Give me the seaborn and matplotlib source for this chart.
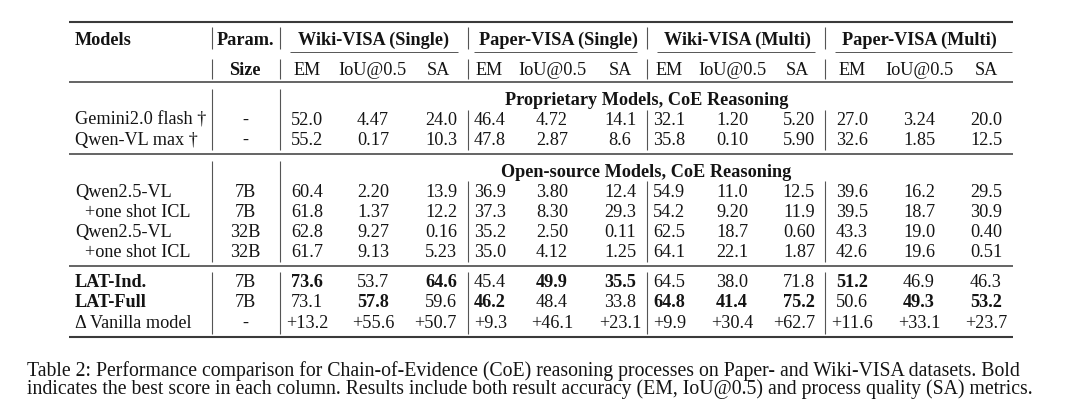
import matplotlib
matplotlib.use("Agg")
import matplotlib.pyplot as plt
import seaborn as sns
import pandas as pd

# ---------------- data ----------------
models = ["Gemini2.0 flash †", "Qwen-VL max †", "Qwen2.5-VL", "+one shot ICL",
          "Qwen2.5-VL", "+one shot ICL", "LAT-Ind.", "LAT-Full", "Δ Vanilla model"]
indented = [False, False, False, True, False, True, False, False, False]
bold_models = [False, False, False, False, False, False, True, True, False]
sizes = ["-", "-", "7B", "7B", "32B", "32B", "7B", "7B", "-"]

wiki_s_em = ["52.0", "55.2", "60.4", "61.8", "62.8", "61.7", "73.6", "73.1", "+13.2"]
wiki_s_iou = ["4.47", "0.17", "2.20", "1.37", "9.27", "9.13", "53.7", "57.8", "+55.6"]
wiki_s_sa = ["24.0", "10.3", "13.9", "12.2", "0.16", "5.23", "64.6", "59.6", "+50.7"]
paper_s_em = ["46.4", "47.8", "36.9", "37.3", "35.2", "35.0", "45.4", "46.2", "+9.3"]
paper_s_iou = ["4.72", "2.87", "3.80", "8.30", "2.50", "4.12", "49.9", "48.4", "+46.1"]
paper_s_sa = ["14.1", "8.6", "12.4", "29.3", "0.11", "1.25", "35.5", "33.8", "+23.1"]
wiki_m_em = ["32.1", "35.8", "54.9", "54.2", "62.5", "64.1", "64.5", "64.8", "+9.9"]
wiki_m_iou = ["1.20", "0.10", "11.0", "9.20", "18.7", "22.1", "38.0", "41.4", "+30.4"]
wiki_m_sa = ["5.20", "5.90", "12.5", "11.9", "0.60", "1.87", "71.8", "75.2", "+62.7"]
paper_m_em = ["27.0", "32.6", "39.6", "39.5", "43.3", "42.6", "51.2", "50.6", "+11.6"]
paper_m_iou = ["3.24", "1.85", "16.2", "18.7", "19.0", "19.6", "46.9", "49.3", "+33.1"]
paper_m_sa = ["20.0", "12.5", "29.5", "30.9", "0.40", "0.51", "46.3", "53.2", "+23.7"]

value_columns = [wiki_s_em, wiki_s_iou, wiki_s_sa, paper_s_em, paper_s_iou, paper_s_sa,
                 wiki_m_em, wiki_m_iou, wiki_m_sa, paper_m_em, paper_m_iou, paper_m_sa]
metric_labels = ["EM", "IoU@0.5", "SA"] * 4
group_labels = ["Wiki-VISA (Single)", "Paper-VISA (Single)", "Wiki-VISA (Multi)", "Paper-VISA (Multi)"]
section_labels = ["Proprietary Models, CoE Reasoning", "Open-source Models, CoE Reasoning"]

# bold cells: (row, column)
bold_cells = {(6, 0), (6, 2), (6, 4), (6, 5), (6, 9),
              (7, 1), (7, 3), (7, 6), (7, 7), (7, 8), (7, 10), (7, 11)}

caption_line1 = ("Table 2: Performance comparison for Chain-of-Evidence (CoE) reasoning "
                 "processes on Paper- and Wiki-VISA datasets. Bold")
caption_line2 = ("indicates the best score in each column. Results include both result "
                 "accuracy (EM, IoU@0.5) and process quality (SA) metrics.")

# ---------------- layout (pixels) ----------------
row_base = [125, 145, 197, 217, 237, 257, 287, 307.5, 328]
col_x = [307, 373, 457, 474, 552, 620, 653, 732, 815, 852, 919, 986]
col_ha = ["center", "center", "right", "left", "center", "center",
          "left", "center", "right", "center", "center", "center"]
hdr_x = [307, 372, 438, 476, 552, 620, 669, 732, 797, 852, 919, 986]
hdr_ha = ["center"] * 3 + ["left"] + ["center"] * 8
group_x = [374, 558, 737, 919.5]
cmid = [(290, 458), (474, 637), (657, 815), (835, 1012)]
section_base = [105, 177]
section_x = 646.5

TEXT = "#141414"
RULE = "#3a3a3a"
VBAR = "#555555"

sns.set_theme(style="white")
plt.rcParams["font.family"] = ["Liberation Serif", "DejaVu Serif"]

fig = plt.figure(figsize=(10.8, 4.14), dpi=100)
ax = fig.add_axes([0, 0, 1, 1])
ax.set_xlim(0, 1080)
ax.set_ylim(414, 0)
ax.axis("off")
fig.patch.set_facecolor("white")
renderer = fig.canvas.get_renderer()


def extent(s, fs, weight="normal", ls=1.0, y=0, va="baseline"):
    t = ax.text(0, y, s, fontsize=fs, fontweight=weight, linespacing=ls, va=va)
    bb = t.get_window_extent(renderer)
    t.remove()
    return bb


# fit font sizes to reference widths
fs_tab = 10 * 283.0 / extent(section_labels[0], 10, "bold").width
fs_cap = 10 * 1002.0 / extent(caption_line2, 10).width


def txt(x, y, s, ha="center", bold=False, fs=None):
    ax.text(x, y, s, ha=ha, va="baseline", fontsize=fs or fs_tab,
            fontweight="bold" if bold else "normal", color=TEXT)


# header
txt(75, 45, "Models", ha="left", bold=True)
txt(245, 45, "Param.", bold=True)
txt(245, 75, "Size", bold=True)
for gx, gl in zip(group_x, group_labels):
    txt(gx, 45, gl, bold=True)
for hx, ha, ml in zip(hdr_x, hdr_ha, metric_labels):
    txt(hx, 75, ml, ha=ha)

# section titles
for sy, sl in zip(section_base, section_labels):
    txt(section_x, sy, sl, bold=True)

# body
df = pd.DataFrame({"model": models, "size": sizes, "indent": indented, "bold": bold_models})
for i, r in df.iterrows():
    y = row_base[i]
    txt(85 if r["indent"] else 75, y, r["model"], ha="left", bold=r["bold"])
    txt(245, y, r["size"])
    for j, col in enumerate(value_columns):
        txt(col_x[j], y, col[i], ha=col_ha[j], bold=(i, j) in bold_cells)

# horizontal rules
ax.hlines([23, 338], 69, 1013, color=RULE, lw=1.5)
ax.hlines([83, 155, 267], 69, 1013, color=RULE, lw=1.1)
for a, b in cmid:
    ax.hlines(53, a, b, color="#555555", lw=0.7)

# vertical bars
full_segments = [(28, 50), (60, 80), (90, 151), (162, 263), (273, 335)]
data_segments = [(28, 50), (60, 80), (111, 151), (182, 263), (273, 335)]
for x in (212, 280):
    for a, b in full_segments:
        ax.vlines(x, a, b, color=VBAR, lw=0.8)
for x in (468, 647, 825):
    for a, b in data_segments:
        ax.vlines(x, a, b, color=VBAR, lw=0.8)

# caption as one two-line text with a tight line advance (~17 px)
cap = caption_line1 + "\n" + caption_line2
adv = extent("Ag\nAg", fs_cap).height - extent("Ag", fs_cap).height
ls = 17.0 / adv
# align the first line's baseline with y=376
top_single = extent(caption_line1, fs_cap, y=376).y1
top_multi = extent(cap, fs_cap, ls=ls, y=376).y1
shift = top_multi - top_single  # display px (upwards)
ax.text(27, 376 + shift, cap, ha="left", va="baseline", fontsize=fs_cap,
        linespacing=ls, color=TEXT)

fig.savefig("out.png", dpi=100, facecolor="white")
